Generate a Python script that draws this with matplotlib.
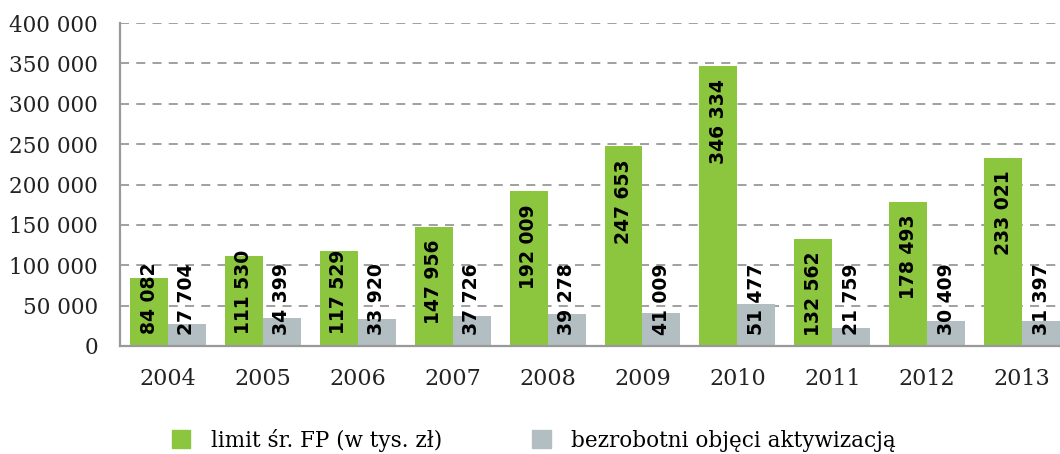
import numpy as np
import matplotlib.pyplot as plt
from matplotlib.patches import Patch

years = ['2004', '2005', '2006', '2007', '2008', '2009', '2010', '2011', '2012', '2013']
limit_fp = [84082, 111530, 117529, 147956, 192009, 247653, 346334, 132562, 178493, 233021]
bezrobotni = [27704, 34399, 33920, 37726, 39278, 41009, 51477, 21759, 30409, 31397]
yticks = [0, 50000, 100000, 150000, 200000, 250000, 300000, 350000, 400000]

green = '#8cc63f'
grey = '#b3bec3'
serif = 'DejaVu Serif'


def fmt(v):
    return '{:,}'.format(v).replace(',', ' ')


fig = plt.figure(figsize=(10.6, 4.54), dpi=100)
ax = fig.add_axes([120 / 1060, 108 / 454, 940 / 1060, 323 / 454])

x = np.arange(len(years))
w = 0.40
ax.bar(x - w / 2, limit_fp, w, color=green, zorder=3)
ax.bar(x + w / 2, bezrobotni, w, color=grey, zorder=3)

ax.set_ylim(0, 400000)
ax.set_xlim(-0.506, 9.40)

# px -> data units
u = 400000 / 323
for i, v in enumerate(limit_fp):
    top = v - 13 * u
    if top - 80 * u < 12 * u:
        ax.text(i - w / 2, 12 * u, fmt(v), rotation=90, ha='center', va='bottom',
                fontsize=13.5, fontweight='bold', color='black', zorder=4)
    else:
        ax.text(i - w / 2, top, fmt(v), rotation=90, ha='center', va='top',
                fontsize=13.5, fontweight='bold', color='black', zorder=4)
for i, v in enumerate(bezrobotni):
    ax.text(i + w / 2, 11 * u, fmt(v), rotation=90, ha='center', va='bottom',
            fontsize=13.5, fontweight='bold', color='black', zorder=4)

ax.set_yticks(yticks)
ax.set_yticklabels([fmt(t) for t in yticks], family=serif, fontsize=15.5, color='#222222')
ax.set_xticks(x)
ax.set_xticklabels(years, family=serif, fontsize=16, color='#222222')
ax.tick_params(axis='y', length=0, pad=16)
ax.tick_params(axis='x', length=0, pad=16)

for t in yticks[1:]:
    ax.axhline(t, color='#999999', lw=1.3, dashes=(5, 4), zorder=1)

for s in ['top', 'right']:
    ax.spines[s].set_visible(False)
for s in ['left', 'bottom']:
    ax.spines[s].set_color('#999999')
    ax.spines[s].set_linewidth(1.6)
ax.spines['bottom'].set_zorder(5)

handles = [Patch(color=green, label='limit śr. FP (w tys. zł)'),
           Patch(color=grey, label='bezrobotni objęci aktywizacją')]
fig.legend(handles=handles, loc='center left', bbox_to_anchor=(172 / 1060, 1 - 440 / 454),
           ncol=2, frameon=False, prop={'family': serif, 'size': 15.5},
           handlelength=0.85, handleheight=0.85, handletextpad=0.95,
           columnspacing=4.2, borderpad=0, borderaxespad=0)

fig.savefig('out.png', dpi=100)
